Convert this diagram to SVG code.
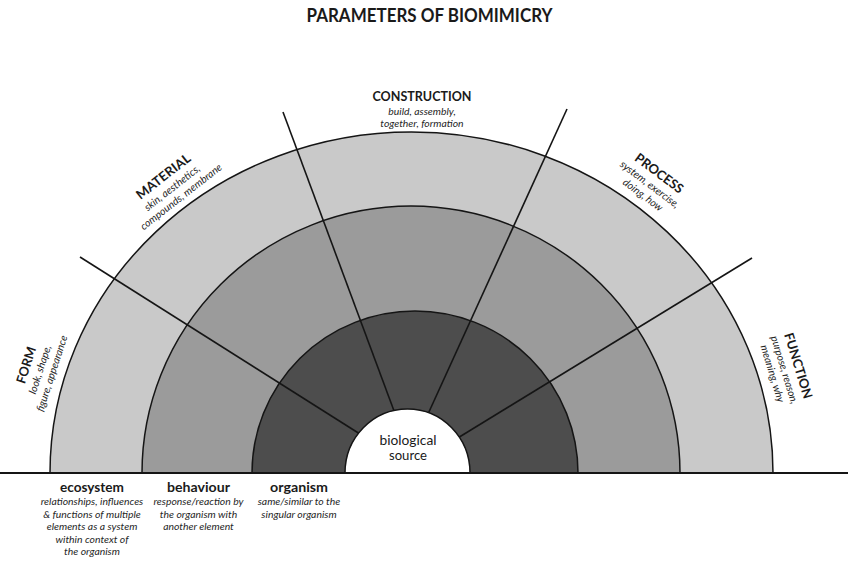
<svg xmlns="http://www.w3.org/2000/svg" width="850" height="562" viewBox="0 0 850 562">
<style>
text{font-family:Lato,"Open Sans","Liberation Sans",sans-serif;fill:#1a1a1a;text-anchor:middle}
.title{font-size:18px;font-weight:bold}
.head{font-size:13px;font-weight:bold}
.sub{font-size:10.4px;font-style:italic;fill:#262626}
.cat{font-size:12.5px;font-weight:bold}
.src{font-size:12.5px}
.ring{stroke:#151515;stroke-width:1.5}
.ray{stroke:#151515;stroke-width:1.6;fill:none}
</style>
<rect width="850" height="562" fill="#ffffff"/>
<text class="title" x="429.5" y="21.5" textLength="246" lengthAdjust="spacingAndGlyphs">PARAMETERS OF BIOMIMICRY</text>

<g id="ring-ecosystem"><path class="ring" d="M 50 473 A 361.5 341 0 0 1 773 473 Z" fill="#c9c9c9"/></g>
<g id="ring-behaviour"><path class="ring" d="M 142 473 A 269 267 0 0 1 680 473 Z" fill="#9b9b9b"/></g>
<g id="ring-organism"><path class="ring" d="M 252 473 A 163 162 0 0 1 578 473 Z" fill="#4d4d4d"/></g>

<g id="connectors">
<line class="ray" x1="80" y1="257" x2="390" y2="453"/>
<line class="ray" x1="283" y1="112" x2="400" y2="427"/>
<line class="ray" x1="567" y1="109" x2="423" y2="425"/>
<line class="ray" x1="752" y1="258" x2="430" y2="455"/>
</g>

<g id="biological-source">
<path class="ring" d="M 345 473 A 62.5 64 0 0 1 470 473 Z" fill="#ffffff"/>
<text class="src" x="408" y="445" textLength="57" lengthAdjust="spacingAndGlyphs">biological</text>
<text class="src" x="408" y="460" textLength="38" lengthAdjust="spacingAndGlyphs">source</text>
</g>

<line x1="0" y1="473" x2="848" y2="473" stroke="#151515" stroke-width="2"/>

<g id="form" transform="translate(30.5,366.5) rotate(-72)">
<text class="head" x="0" y="0" textLength="38" lengthAdjust="spacingAndGlyphs">FORM</text>
<text class="sub" x="0" y="13.5">look, shape,</text>
<text class="sub" x="0" y="26">figure, appearance</text>
</g>
<g id="material" transform="translate(166,180) rotate(-38)">
<text class="head" x="0" y="0" textLength="65" lengthAdjust="spacingAndGlyphs">MATERIAL</text>
<text class="sub" x="0" y="13.5">skin, aesthetics,</text>
<text class="sub" x="1.5" y="26">compounds, membrane</text>
</g>
<g id="construction">
<text class="head" x="422" y="101" textLength="99" lengthAdjust="spacingAndGlyphs">CONSTRUCTION</text>
<text class="sub" x="422" y="114.5">build, assembly,</text>
<text class="sub" x="422" y="127">together, formation</text>
</g>
<g id="process" transform="translate(656.5,177) rotate(37)">
<text class="head" x="0" y="0" textLength="57" lengthAdjust="spacingAndGlyphs">PROCESS</text>
<text class="sub" x="-1" y="13.5">system, exercise,</text>
<text class="sub" x="0" y="26">doing, how</text>
</g>
<g id="function" transform="translate(794,367) rotate(73)">
<text class="head" x="0" y="0" textLength="68" lengthAdjust="spacingAndGlyphs">FUNCTION</text>
<text class="sub" x="0" y="13.5">purpose, reason,</text>
<text class="sub" x="0" y="26">meaning, why</text>
</g>

<g id="ecosystem">
<text class="cat" x="92" y="491.5" textLength="64" lengthAdjust="spacingAndGlyphs">ecosystem</text>
<text class="sub" x="92" y="505">relationships, influences</text>
<text class="sub" x="92" y="517.5">&amp; functions of multiple</text>
<text class="sub" x="92" y="530">elements as a system</text>
<text class="sub" x="92" y="542.5">within context of</text>
<text class="sub" x="92" y="555">the organism</text>
</g>
<g id="behaviour">
<text class="cat" x="198.5" y="491.5" textLength="63" lengthAdjust="spacingAndGlyphs">behaviour</text>
<text class="sub" x="198.5" y="505">response/reaction by</text>
<text class="sub" x="198.5" y="517.5">the organism with</text>
<text class="sub" x="198.5" y="530">another element</text>
</g>
<g id="organism">
<text class="cat" x="299" y="491.5" textLength="58" lengthAdjust="spacingAndGlyphs">organism</text>
<text class="sub" x="299" y="505">same/similar to the</text>
<text class="sub" x="299" y="517.5">singular organism</text>
</g>
</svg>
